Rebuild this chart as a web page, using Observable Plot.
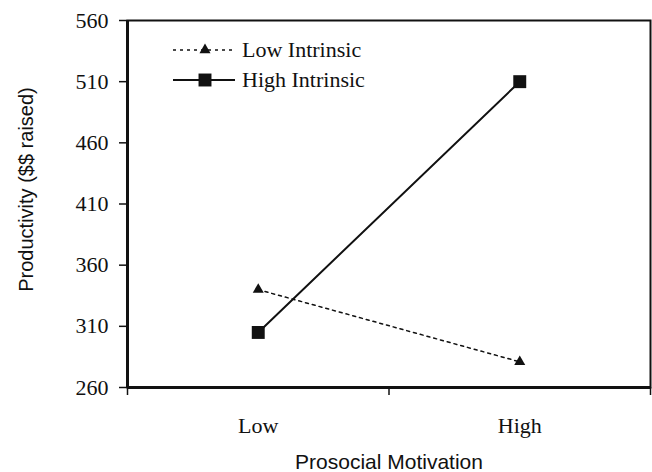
<!DOCTYPE html>
<html><head><meta charset="utf-8">
<script src="https://cdn.jsdelivr.net/npm/d3@7"></script>
<script src="https://cdn.jsdelivr.net/npm/@observablehq/plot@0.6"></script>
<style>
body{margin:0;background:#fff}
#wrap{position:relative;width:652px;height:472px}
.lg{position:absolute;left:173px;height:24px;display:flex;align-items:center;font-family:"Liberation Serif","Times New Roman",serif;font-size:22px;color:#111;white-space:nowrap}
.lg svg{margin-right:7px}
</style></head><body><div id="wrap"></div>
<script>
const categories = ["Low", "High"];
const seriesNames = ["Low Intrinsic", "High Intrinsic"];
const lowIntrinsic = [340, 281];
const highIntrinsic = [305, 510];
const yTicks = [260, 310, 360, 410, 460, 510, 560];
const xTitle = "Prosocial Motivation";
const yTitle = "Productivity ($$ raised)";

const ink = "#111";
const toRows = (vals, name) => categories.map((c, i) => ({series: name, cat: c, pos: i + 0.5, value: vals[i]}));
const lowData = toRows(lowIntrinsic, seriesNames[0]);
const highData = toRows(highIntrinsic, seriesNames[1]);
const catPos = categories.map((c, i) => i + 0.5);
const bounds = d3.range(categories.length + 1);

const chart = Plot.plot({
  width: 652,
  height: 472,
  marginLeft: 127,
  marginRight: 2,
  marginTop: 20,
  marginBottom: 85,
  style: {fontFamily: "'Liberation Serif','Times New Roman',serif", fontSize: "22px", color: ink, background: "#fff"},
  x: {type: "linear", domain: [0, categories.length]},
  y: {domain: [yTicks[0], yTicks[yTicks.length - 1]]},
  marks: [
    Plot.axisY({ticks: yTicks, tickSize: 8, tickPadding: 11, label: null, strokeWidth: 1.5, stroke: ink, fill: ink, fontSize: 22}),
    Plot.axisX({ticks: bounds, tickSize: 8, tickFormat: () => "", label: null, strokeWidth: 1.5, stroke: ink}),
    Plot.axisX({ticks: catPos, tickSize: 0, tickPadding: 30, tickFormat: d => categories[Math.floor(d)], label: null, fill: ink, fontSize: 22}),
    Plot.frame({stroke: ink, strokeWidth: 2}),
    Plot.ruleY([yTicks[0]], {stroke: ink, strokeWidth: 3}),
    Plot.ruleX([0], {stroke: ink, strokeWidth: 3}),
    Plot.line(lowData, {x: "pos", y: "value", stroke: ink, strokeWidth: 1.5, strokeDasharray: "3,4"}),
    Plot.line(highData, {x: "pos", y: "value", stroke: ink, strokeWidth: 2}),
    Plot.dot(lowData, {x: "pos", y: "value", symbol: "triangle", r: 4.1, fill: ink, stroke: "none"}),
    Plot.dot(highData, {x: "pos", y: "value", symbol: "square", r: 7.3, fill: ink, stroke: "none"}),
    Plot.text([xTitle], {frameAnchor: "bottom", dy: 75, text: d => d, textAnchor: "middle", fontFamily: "'Liberation Sans',Arial,sans-serif", fontSize: 21, fill: ink, lineAnchor: "middle"}),
    Plot.text([yTitle], {frameAnchor: "left", dx: -100.5, dy: -14.5, rotate: -90, text: d => d, textAnchor: "middle", fontFamily: "'Liberation Sans',Arial,sans-serif", fontSize: 20, fill: ink, lineAnchor: "middle"})
  ]
});
const wrap = document.getElementById("wrap");
wrap.appendChild(chart);

// legend overlay
const legendItems = [
  {name: seriesNames[0], dash: "3,4", sw: 1.5, shape: "tri", top: 38},
  {name: seriesNames[1], dash: null, sw: 2, shape: "sq", top: 68}
];
for (const it of legendItems) {
  const div = document.createElement("div");
  div.className = "lg";
  div.style.top = it.top + "px";
  const sym = it.shape === "tri"
    ? `<path d="${d3.symbol(d3.symbolTriangle, 4.1 * 4.1 * Math.PI)()}" transform="translate(32,12)" fill="${ink}"/>`
    : `<path d="${d3.symbol(d3.symbolSquare, 7.3 * 7.3 * Math.PI)()}" transform="translate(32,12)" fill="${ink}"/>`;
  div.innerHTML = `<svg width="62" height="24"><line x1="0" x2="62" y1="12" y2="12" stroke="${ink}" stroke-width="${it.sw}" ${it.dash ? `stroke-dasharray="${it.dash}"` : ""}/>${sym}</svg><span>${it.name}</span>`;
  wrap.appendChild(div);
}
</script></body></html>
